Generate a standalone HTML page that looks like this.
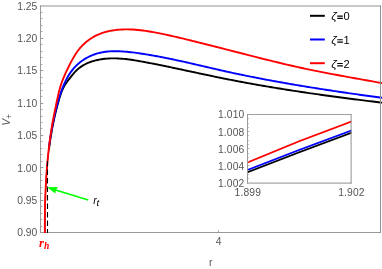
<!DOCTYPE html>
<html><head><meta charset="utf-8"><title>plot</title>
<style>
html,body{margin:0;padding:0;background:#fff;}
body{width:382px;height:269px;overflow:hidden;}
svg{display:block;will-change:transform;}
text{font-family:"Liberation Sans",sans-serif;}
.tl{font-size:10.3px;fill:#555;}
.lg{font-size:10.6px;fill:#000;}
</style></head><body>
<svg width="382" height="269" viewBox="0 0 382 269">
<rect x="0" y="0" width="382" height="269" fill="#fff"/>
<defs><clipPath id="cp"><rect x="40.5" y="5.5" width="342.0" height="227.5"/></clipPath>
<clipPath id="ci"><rect x="247.5" y="114.5" width="104" height="69"/></clipPath></defs>

<g stroke="#999" stroke-width="1" fill="none">
<line x1="40" y1="6.0" x2="381" y2="6.0" stroke="#909090"/>
<line x1="40.5" y1="5.5" x2="40.5" y2="233"/>
<line x1="40" y1="232.5" x2="381" y2="232.5"/>
</g>
<g clip-path="url(#cp)" fill="none" stroke-width="1.9" stroke-linejoin="round">
<path d="M44.90,237.99 L44.89,236.11 L44.88,234.23 L44.88,232.34 L44.87,230.46 L44.87,228.58 L44.87,226.69 L44.87,224.81 L44.88,222.92 L44.89,221.04 L44.90,219.15 L44.91,217.26 L44.93,215.38 L44.95,213.49 L44.98,211.61 L45.01,209.72 L45.04,207.83 L45.08,205.95 L45.12,204.06 L45.17,202.17 L45.22,200.29 L45.28,198.40 L45.34,196.51 L45.41,194.63 L45.48,192.74 L45.56,190.86 L45.64,188.97 L45.73,187.09 L45.82,185.20 L45.92,183.32 L46.03,181.43 L46.14,179.55 L46.26,177.67 L46.39,175.79 L46.52,173.91 L46.66,172.03 L46.80,170.14 L46.96,168.27 L47.12,166.39 L47.28,164.51 L47.46,162.63 L47.64,160.76 L47.84,158.88 L48.03,157.01 L48.24,155.13 L48.46,153.26 L48.68,151.39 L48.92,149.52" stroke="#000" stroke-width="0.8"/>
<path d="M48.92,149.52 L49.16,147.65 L49.41,145.78 L49.67,143.92 L49.94,142.05 L50.22,140.19 L50.50,138.32 L50.80,136.46 L51.11,134.60 L51.43,132.74 L51.75,130.88 L52.09,129.03 L52.44,127.17 L52.80,125.32 L53.17,123.47 L53.55,121.62 L53.94,119.77 L54.34,117.92 L54.76,116.08 L55.18,114.24 L55.62,112.40 L56.07,110.56 L56.53,108.72 L57.00,106.89 L57.48,105.06 L57.98,103.23 L58.48,101.41 L59.00,99.59 L59.54,97.78 L60.10,95.98 L60.69,94.20 L61.33,92.44 L62.01,90.71 L62.75,89.00 L63.56,87.34 L64.44,85.71 L65.40,84.13 L66.45,82.60 L67.55,81.09 L68.70,79.59 L69.87,78.09 L71.05,76.58 L72.25,75.08 L73.49,73.60 L74.76,72.17 L76.08,70.80 L77.46,69.50 L78.89,68.29 L80.38,67.16 L81.93,66.11 L83.52,65.15 L85.16,64.26 L86.84,63.44 L88.56,62.69 L90.30,62.02 L92.08,61.40 L93.88,60.86 L95.70,60.37 L97.54,59.95 L99.38,59.58 L101.24,59.26 L103.10,59.00 L104.96,58.78 L106.83,58.61 L108.70,58.49 L110.56,58.41 L112.43,58.37 L114.30,58.37 L116.18,58.41 L118.05,58.48 L119.92,58.58 L121.80,58.72 L123.67,58.88 L125.55,59.07 L127.42,59.29 L129.30,59.53 L131.18,59.79 L133.05,60.06 L134.92,60.36 L136.80,60.67 L138.67,60.99 L140.54,61.32 L142.41,61.66 L144.28,62.01 L146.14,62.36 L148.01,62.72 L149.87,63.07 L151.73,63.43 L153.59,63.80 L155.45,64.17 L157.31,64.54 L159.16,64.91 L161.02,65.28 L162.87,65.66 L164.72,66.04 L166.57,66.42 L168.42,66.80 L170.27,67.19 L172.12,67.57 L173.97,67.96 L175.81,68.35 L177.66,68.74 L179.50,69.13 L181.34,69.53 L183.19,69.92 L185.03,70.31 L186.87,70.71 L188.71,71.10 L190.55,71.49 L192.39,71.89 L194.23,72.28 L196.08,72.68 L197.92,73.07 L199.76,73.46 L201.60,73.86 L203.44,74.25 L205.28,74.64 L207.12,75.03 L208.96,75.42 L210.80,75.80 L212.64,76.19 L214.48,76.57 L216.32,76.95 L218.16,77.33 L220.01,77.71 L221.85,78.09 L223.69,78.46 L225.54,78.83 L227.38,79.20 L229.23,79.56 L231.08,79.93 L232.93,80.29 L234.77,80.65 L236.62,81.00 L238.47,81.35 L240.33,81.70 L242.18,82.05 L244.03,82.40 L245.88,82.74 L247.74,83.08 L249.59,83.42 L251.45,83.75 L253.30,84.08 L255.16,84.41 L257.02,84.74 L258.87,85.07 L260.73,85.39 L262.59,85.71 L264.45,86.03 L266.31,86.35 L268.17,86.67 L270.03,86.98 L271.89,87.29 L273.75,87.60 L275.62,87.90 L277.48,88.21 L279.34,88.51 L281.21,88.81 L283.07,89.11 L284.93,89.41 L286.80,89.70 L288.66,89.99 L290.53,90.28 L292.40,90.57 L294.26,90.86 L296.13,91.14 L298.00,91.43 L299.86,91.71 L301.73,91.99 L303.60,92.27 L305.47,92.54 L307.33,92.82 L309.20,93.09 L311.07,93.36 L312.94,93.63 L314.81,93.90 L316.68,94.17 L318.55,94.43 L320.42,94.69 L322.29,94.96 L324.16,95.22 L326.03,95.48 L327.90,95.73 L329.77,95.99 L331.64,96.24 L333.51,96.50 L335.38,96.75 L337.25,97.00 L339.12,97.25 L340.99,97.50 L342.86,97.74 L344.73,97.99 L346.60,98.23 L348.47,98.48 L350.34,98.72 L352.21,98.96 L354.08,99.20 L355.95,99.44 L357.82,99.68 L359.69,99.91 L361.56,100.15 L363.43,100.38 L365.30,100.62 L367.17,100.85 L369.04,101.08 L370.91,101.31 L372.78,101.54 L374.64,101.77 L376.51,102.00 L378.38,102.23 L380.25,102.46 L382.11,102.68 L383.98,102.91" stroke="#000"/>
<path d="M44.77,238.02 L44.78,236.11 L44.79,234.20 L44.81,232.29 L44.82,230.38 L44.84,228.46 L44.85,226.55 L44.87,224.64 L44.89,222.73 L44.91,220.82 L44.93,218.91 L44.96,216.99 L44.98,215.08 L45.01,213.17 L45.04,211.26 L45.08,209.35 L45.12,207.44 L45.16,205.54 L45.20,203.63 L45.25,201.72 L45.30,199.81 L45.36,197.90 L45.42,196.00 L45.48,194.09 L45.55,192.18 L45.62,190.28 L45.70,188.37 L45.79,186.47 L45.87,184.57 L45.97,182.66 L46.07,180.76 L46.18,178.86 L46.29,176.96 L46.41,175.06 L46.53,173.16 L46.66,171.26 L46.80,169.36 L46.95,167.46 L47.10,165.57 L47.26,163.67 L47.43,161.78 L47.61,159.88 L47.79,157.99 L47.99,156.10 L48.19,154.20 L48.40,152.31 L48.62,150.42 L48.85,148.54" stroke="#0000ff" stroke-width="0.8"/>
<path d="M48.85,148.54 L49.08,146.65 L49.33,144.76 L49.59,142.88 L49.85,140.99 L50.13,139.11 L50.42,137.23 L50.71,135.35 L51.02,133.47 L51.34,131.59 L51.67,129.71 L52.01,127.83 L52.36,125.96 L52.72,124.09 L53.10,122.21 L53.49,120.34 L53.88,118.47 L54.30,116.60 L54.72,114.74 L55.16,112.87 L55.61,111.01 L56.07,109.14 L56.55,107.28 L57.04,105.42 L57.54,103.57 L58.06,101.71 L58.59,99.85 L59.14,98.00 L59.70,96.15 L60.29,94.31 L60.90,92.48 L61.53,90.67 L62.19,88.86 L62.88,87.07 L63.60,85.30 L64.36,83.55 L65.15,81.83 L65.98,80.13 L66.85,78.45 L67.77,76.81 L68.73,75.20 L69.74,73.62 L70.80,72.08 L71.91,70.58 L73.08,69.11 L74.30,67.70 L75.58,66.32 L76.93,64.99 L78.34,63.72 L79.81,62.49 L81.33,61.32 L82.90,60.21 L84.52,59.16 L86.17,58.17 L87.86,57.24 L89.58,56.39 L91.32,55.60 L93.08,54.89 L94.86,54.25 L96.65,53.68 L98.46,53.17 L100.28,52.73 L102.12,52.35 L103.97,52.04 L105.83,51.77 L107.69,51.56 L109.57,51.40 L111.46,51.29 L113.35,51.22 L115.26,51.20 L117.16,51.21 L119.08,51.26 L120.99,51.35 L122.91,51.47 L124.83,51.61 L126.76,51.78 L128.68,51.97 L130.61,52.19 L132.53,52.41 L134.45,52.66 L136.37,52.91 L138.28,53.18 L140.19,53.45 L142.10,53.74 L144.00,54.03 L145.91,54.33 L147.80,54.64 L149.70,54.95 L151.59,55.28 L153.48,55.61 L155.37,55.95 L157.25,56.29 L159.13,56.64 L161.01,57.00 L162.89,57.37 L164.76,57.73 L166.63,58.11 L168.50,58.49 L170.37,58.87 L172.24,59.26 L174.10,59.66 L175.96,60.06 L177.83,60.46 L179.69,60.87 L181.54,61.27 L183.40,61.69 L185.26,62.10 L187.11,62.52 L188.97,62.94 L190.82,63.36 L192.67,63.79 L194.53,64.21 L196.38,64.64 L198.23,65.07 L200.08,65.50 L201.93,65.93 L203.78,66.36 L205.63,66.79 L207.48,67.22 L209.33,67.65 L211.18,68.08 L213.03,68.51 L214.89,68.93 L216.74,69.36 L218.59,69.78 L220.44,70.20 L222.30,70.62 L224.15,71.04 L226.01,71.45 L227.87,71.86 L229.72,72.27 L231.58,72.67 L233.44,73.08 L235.31,73.47 L237.17,73.87 L239.03,74.26 L240.90,74.65 L242.76,75.04 L244.63,75.42 L246.49,75.81 L248.36,76.18 L250.23,76.56 L252.10,76.93 L253.97,77.30 L255.84,77.67 L257.72,78.04 L259.59,78.40 L261.46,78.76 L263.34,79.12 L265.21,79.47 L267.09,79.83 L268.97,80.18 L270.84,80.53 L272.72,80.87 L274.60,81.21 L276.48,81.55 L278.36,81.89 L280.24,82.23 L282.12,82.56 L284.00,82.90 L285.89,83.23 L287.77,83.55 L289.65,83.88 L291.54,84.20 L293.42,84.52 L295.30,84.84 L297.19,85.16 L299.07,85.48 L300.96,85.79 L302.85,86.10 L304.73,86.41 L306.62,86.72 L308.51,87.02 L310.39,87.33 L312.28,87.63 L314.17,87.93 L316.05,88.23 L317.94,88.53 L319.83,88.82 L321.72,89.11 L323.61,89.41 L325.49,89.70 L327.38,89.99 L329.27,90.27 L331.16,90.56 L333.05,90.84 L334.94,91.13 L336.83,91.41 L338.71,91.69 L340.60,91.97 L342.49,92.25 L344.38,92.52 L346.27,92.80 L348.16,93.07 L350.04,93.34 L351.93,93.61 L353.82,93.88 L355.71,94.15 L357.59,94.42 L359.48,94.69 L361.37,94.95 L363.25,95.22 L365.14,95.48 L367.02,95.74 L368.91,96.01 L370.79,96.27 L372.68,96.53 L374.56,96.79 L376.44,97.05 L378.33,97.30 L380.21,97.56 L382.09,97.82 L383.97,98.07" stroke="#0000ff"/>
<path d="M44.93,238.00 L44.90,235.43 L44.88,232.86 L44.86,230.29 L44.85,227.72 L44.85,225.15 L44.85,222.58 L44.86,220.01 L44.88,217.44 L44.91,214.87 L44.94,212.29 L44.98,209.72 L45.03,207.15 L45.09,204.58 L45.16,202.01 L45.23,199.44 L45.32,196.87 L45.41,194.31 L45.52,191.74 L45.63,189.17 L45.75,186.60 L45.88,184.03 L46.02,181.47 L46.18,178.90 L46.34,176.34 L46.51,173.77 L46.70,171.21 L46.89,168.65 L47.10,166.08 L47.31,163.52 L47.54,160.96 L47.78,158.40 L48.04,155.85 L48.30,153.29 L48.58,150.73 L48.87,148.18 L49.17,145.63 L49.49,143.08 L49.82,140.53 L50.16,137.98 L50.52,135.43 L50.90,132.89 L51.29,130.35 L51.69,127.81 L52.11,125.27 L52.55,122.74 L53.00,120.21 L53.47,117.68 L53.96,115.16 L54.46,112.64 L54.97,110.12 L55.50,107.60 L56.03,105.08 L56.57,102.56 L57.11,100.05 L57.66,97.54 L58.22,95.03 L58.81,92.53 L59.44,90.04 L60.12,87.57 L60.86,85.12 L61.67,82.70 L62.56,80.29 L63.50,77.91 L64.50,75.55 L65.55,73.20 L66.63,70.87 L67.75,68.55 L68.89,66.24 L70.05,63.94 L71.23,61.66 L72.45,59.39 L73.72,57.16 L75.04,54.97 L76.43,52.82 L77.90,50.74 L79.47,48.72 L81.13,46.79 L82.89,44.94 L84.76,43.19 L86.71,41.54 L88.75,39.99 L90.87,38.53 L93.06,37.19 L95.32,35.95 L97.63,34.82 L100.00,33.81 L102.42,32.91 L104.88,32.13 L107.37,31.47 L109.88,30.91 L112.41,30.45 L114.94,30.08 L117.48,29.79 L120.03,29.58 L122.58,29.44 L125.13,29.37 L127.69,29.37 L130.25,29.43 L132.82,29.55 L135.38,29.72 L137.94,29.94 L140.51,30.22 L143.07,30.53 L145.63,30.89 L148.18,31.28 L150.74,31.70 L153.28,32.15 L155.83,32.62 L158.36,33.11 L160.90,33.62 L163.42,34.14 L165.94,34.68 L168.45,35.22 L170.95,35.78 L173.46,36.35 L175.95,36.92 L178.45,37.51 L180.94,38.10 L183.43,38.70 L185.92,39.30 L188.40,39.91 L190.89,40.52 L193.38,41.14 L195.86,41.76 L198.35,42.38 L200.84,43.00 L203.33,43.63 L205.83,44.25 L208.32,44.88 L210.81,45.51 L213.31,46.14 L215.80,46.77 L218.29,47.40 L220.79,48.03 L223.28,48.67 L225.78,49.30 L228.27,49.94 L230.76,50.58 L233.26,51.22 L235.75,51.86 L238.24,52.50 L240.73,53.14 L243.22,53.77 L245.71,54.41 L248.21,55.05 L250.70,55.68 L253.19,56.32 L255.68,56.95 L258.17,57.58 L260.67,58.21 L263.16,58.83 L265.65,59.46 L268.15,60.08 L270.64,60.69 L273.14,61.30 L275.64,61.91 L278.13,62.52 L280.63,63.12 L283.13,63.71 L285.63,64.30 L288.13,64.89 L290.64,65.47 L293.14,66.04 L295.65,66.61 L298.15,67.17 L300.66,67.72 L303.17,68.27 L305.68,68.81 L308.20,69.34 L310.71,69.87 L313.23,70.39 L315.75,70.90 L318.27,71.41 L320.79,71.90 L323.31,72.40 L325.84,72.89 L328.36,73.37 L330.89,73.85 L333.41,74.32 L335.94,74.79 L338.47,75.26 L341.00,75.72 L343.53,76.18 L346.06,76.64 L348.59,77.10 L351.12,77.56 L353.65,78.01 L356.18,78.46 L358.71,78.92 L361.24,79.37 L363.77,79.82 L366.30,80.28 L368.83,80.73 L371.36,81.19 L373.89,81.65 L376.42,82.11 L378.95,82.57 L381.47,83.04 L384.00,83.50" stroke="#ff0000"/>
<path d="M47.5,161.0 V233" stroke="#000" stroke-width="1.1" stroke-dasharray="5.4 3.1"/>
</g>
<line x1="380.5" y1="5.5" x2="380.5" y2="233" stroke="#929292" stroke-width="1"/>
<g stroke-width="1">
<line x1="41" y1="226.50" x2="42.4" y2="226.50" stroke="#a6a6a6"/>
<line x1="41" y1="219.50" x2="42.4" y2="219.50" stroke="#a6a6a6"/>
<line x1="41" y1="213.50" x2="42.4" y2="213.50" stroke="#a6a6a6"/>
<line x1="41" y1="206.50" x2="42.4" y2="206.50" stroke="#a6a6a6"/>
<line x1="41" y1="200.50" x2="43.3" y2="200.50" stroke="#9a9a9a"/>
<line x1="41" y1="193.50" x2="42.4" y2="193.50" stroke="#a6a6a6"/>
<line x1="41" y1="187.50" x2="42.4" y2="187.50" stroke="#a6a6a6"/>
<line x1="41" y1="180.50" x2="42.4" y2="180.50" stroke="#a6a6a6"/>
<line x1="41" y1="174.50" x2="42.4" y2="174.50" stroke="#a6a6a6"/>
<line x1="41" y1="167.50" x2="43.3" y2="167.50" stroke="#9a9a9a"/>
<line x1="41" y1="161.50" x2="42.4" y2="161.50" stroke="#a6a6a6"/>
<line x1="41" y1="154.50" x2="42.4" y2="154.50" stroke="#a6a6a6"/>
<line x1="41" y1="148.50" x2="42.4" y2="148.50" stroke="#a6a6a6"/>
<line x1="41" y1="141.50" x2="42.4" y2="141.50" stroke="#a6a6a6"/>
<line x1="41" y1="135.50" x2="43.3" y2="135.50" stroke="#9a9a9a"/>
<line x1="41" y1="128.50" x2="42.4" y2="128.50" stroke="#a6a6a6"/>
<line x1="41" y1="122.50" x2="42.4" y2="122.50" stroke="#a6a6a6"/>
<line x1="41" y1="116.50" x2="42.4" y2="116.50" stroke="#a6a6a6"/>
<line x1="41" y1="109.50" x2="42.4" y2="109.50" stroke="#a6a6a6"/>
<line x1="41" y1="103.50" x2="43.3" y2="103.50" stroke="#9a9a9a"/>
<line x1="41" y1="96.50" x2="42.4" y2="96.50" stroke="#a6a6a6"/>
<line x1="41" y1="90.50" x2="42.4" y2="90.50" stroke="#a6a6a6"/>
<line x1="41" y1="83.50" x2="42.4" y2="83.50" stroke="#a6a6a6"/>
<line x1="41" y1="77.50" x2="42.4" y2="77.50" stroke="#a6a6a6"/>
<line x1="41" y1="70.50" x2="43.3" y2="70.50" stroke="#9a9a9a"/>
<line x1="41" y1="64.50" x2="42.4" y2="64.50" stroke="#a6a6a6"/>
<line x1="41" y1="57.50" x2="42.4" y2="57.50" stroke="#a6a6a6"/>
<line x1="41" y1="51.50" x2="42.4" y2="51.50" stroke="#a6a6a6"/>
<line x1="41" y1="44.50" x2="42.4" y2="44.50" stroke="#a6a6a6"/>
<line x1="41" y1="38.50" x2="43.3" y2="38.50" stroke="#9a9a9a"/>
<line x1="41" y1="31.50" x2="42.4" y2="31.50" stroke="#a6a6a6"/>
<line x1="41" y1="25.50" x2="42.4" y2="25.50" stroke="#a6a6a6"/>
<line x1="41" y1="18.50" x2="42.4" y2="18.50" stroke="#a6a6a6"/>
<line x1="41" y1="12.50" x2="42.4" y2="12.50" stroke="#a6a6a6"/>
</g>
<g stroke="#9a9a9a" stroke-width="0.9">
<line x1="218.4" y1="232" x2="218.4" y2="230.4"/>
</g>
<text class="tl" x="37.3" y="10.10" text-anchor="end">1.25</text>
<text class="tl" x="37.3" y="42.10" text-anchor="end">1.20</text>
<text class="tl" x="37.3" y="74.10" text-anchor="end">1.15</text>
<text class="tl" x="37.3" y="107.10" text-anchor="end">1.10</text>
<text class="tl" x="37.3" y="139.10" text-anchor="end">1.05</text>
<text class="tl" x="37.3" y="172.10" text-anchor="end">1.00</text>
<text class="tl" x="37.3" y="204.10" text-anchor="end">0.95</text>
<text class="tl" x="37.3" y="236.10" text-anchor="end">0.90</text>
<text class="tl" x="218.5" y="245.2" text-anchor="middle">4</text>
<text class="tl" x="210.8" y="265.8" text-anchor="middle">r</text>
<g transform="translate(9.7,125.8) rotate(-90)"><text class="tl" font-style="italic" x="0" y="0" style="font-size:10.5px">V</text><text class="tl" x="6.9" y="1.8" style="font-size:8.4px">+</text></g>
<text x="39" y="247" style="font-family:'Liberation Serif',serif;font-weight:bold;font-style:italic;font-size:12.6px;fill:#ff0000">r<tspan dy="2.2" style="font-size:9.6px">h</tspan></text>
<g stroke="#00ff00" fill="#00ff00"><line x1="88.3" y1="200" x2="54" y2="189.5" stroke-width="1.8"/><path d="M47.0,187.2 L57.9,187.1 L55.8,190.0 L55.4,193.6 Z" stroke="none"/></g>
<text x="93.2" y="203.8" font-style="italic" style="font-size:10.5px;fill:#000">r<tspan dx="-0.3" dy="2.0" style="font-size:9.8px">t</tspan></text>
<line x1="310" y1="15.8" x2="324.8" y2="15.8" stroke="#000" stroke-width="2.0"/>
<text class="lg" y="20.10"><tspan x="331.3" font-style="italic" textLength="5.5" lengthAdjust="spacingAndGlyphs">ζ</tspan><tspan x="343.4" textLength="6.2" lengthAdjust="spacingAndGlyphs">0</tspan></text>
<path d="M337.3,16.05 H342.8 M337.3,18.40 H342.9" stroke="#000" stroke-width="1.15" fill="none"/>
<line x1="310" y1="39.5" x2="324.8" y2="39.5" stroke="#0000ff" stroke-width="2.0"/>
<text class="lg" y="43.80"><tspan x="331.3" font-style="italic" textLength="5.5" lengthAdjust="spacingAndGlyphs">ζ</tspan><tspan x="343.4" textLength="6.2" lengthAdjust="spacingAndGlyphs">1</tspan></text>
<path d="M337.3,39.75 H342.8 M337.3,42.10 H342.9" stroke="#000" stroke-width="1.15" fill="none"/>
<line x1="310" y1="63.2" x2="324.8" y2="63.2" stroke="#ff0000" stroke-width="2.0"/>
<text class="lg" y="67.50"><tspan x="331.3" font-style="italic" textLength="5.5" lengthAdjust="spacingAndGlyphs">ζ</tspan><tspan x="343.4" textLength="6.2" lengthAdjust="spacingAndGlyphs">2</tspan></text>
<path d="M337.3,63.45 H342.8 M337.3,65.80 H342.9" stroke="#000" stroke-width="1.15" fill="none"/>
<g clip-path="url(#ci)" fill="none" stroke-width="1.7">
<path d="M247,172.5 Q299.5,151.85 352,132.6" stroke="#000"/>
<path d="M247,170.2 Q299.5,149.35 352,130.3" stroke="#0000ff"/>
<path d="M247,162.7 Q299.5,140.35 352,121.4" stroke="#ff0000"/>
</g>
<g stroke="#9a9a9a" stroke-width="1" fill="none">
<line x1="247" y1="114.5" x2="351.6" y2="114.5" stroke="#a0a0a0"/>
<line x1="351.1" y1="114" x2="351.1" y2="183.6" stroke="#909090"/>
<line x1="247.5" y1="114" x2="247.5" y2="183.6"/>
<line x1="247" y1="183.1" x2="351.6" y2="183.1" stroke="#909090"/>
</g>
<g stroke="#b4b4b4" stroke-width="0.8">
<line x1="248" y1="178.50" x2="249.0" y2="178.50"/>
<line x1="248" y1="174.50" x2="249.0" y2="174.50"/>
<line x1="248" y1="170.50" x2="249.0" y2="170.50"/>
<line x1="248" y1="165.50" x2="249.8" y2="165.50"/>
<line x1="248" y1="161.50" x2="249.0" y2="161.50"/>
<line x1="248" y1="157.50" x2="249.0" y2="157.50"/>
<line x1="248" y1="153.50" x2="249.0" y2="153.50"/>
<line x1="248" y1="148.50" x2="249.8" y2="148.50"/>
<line x1="248" y1="144.50" x2="249.0" y2="144.50"/>
<line x1="248" y1="140.50" x2="249.0" y2="140.50"/>
<line x1="248" y1="135.50" x2="249.0" y2="135.50"/>
<line x1="248" y1="131.50" x2="249.8" y2="131.50"/>
<line x1="248" y1="127.50" x2="249.0" y2="127.50"/>
<line x1="248" y1="123.50" x2="249.0" y2="123.50"/>
<line x1="248" y1="118.50" x2="249.0" y2="118.50"/>
</g>
<text class="tl" x="244.5" y="187.10" text-anchor="end" style="letter-spacing:0.15px">1.002</text>
<text class="tl" x="244.5" y="170.10" text-anchor="end" style="letter-spacing:0.15px">1.004</text>
<text class="tl" x="244.5" y="153.10" text-anchor="end" style="letter-spacing:0.15px">1.006</text>
<text class="tl" x="244.5" y="136.10" text-anchor="end" style="letter-spacing:0.15px">1.008</text>
<text class="tl" x="244.5" y="118.10" text-anchor="end" style="letter-spacing:0.15px">1.010</text>
<text class="tl" x="247.8" y="196.2" text-anchor="middle" style="letter-spacing:0.15px">1.899</text>
<text class="tl" x="351.4" y="196.2" text-anchor="middle" style="letter-spacing:0.15px">1.902</text>
</svg></body></html>
